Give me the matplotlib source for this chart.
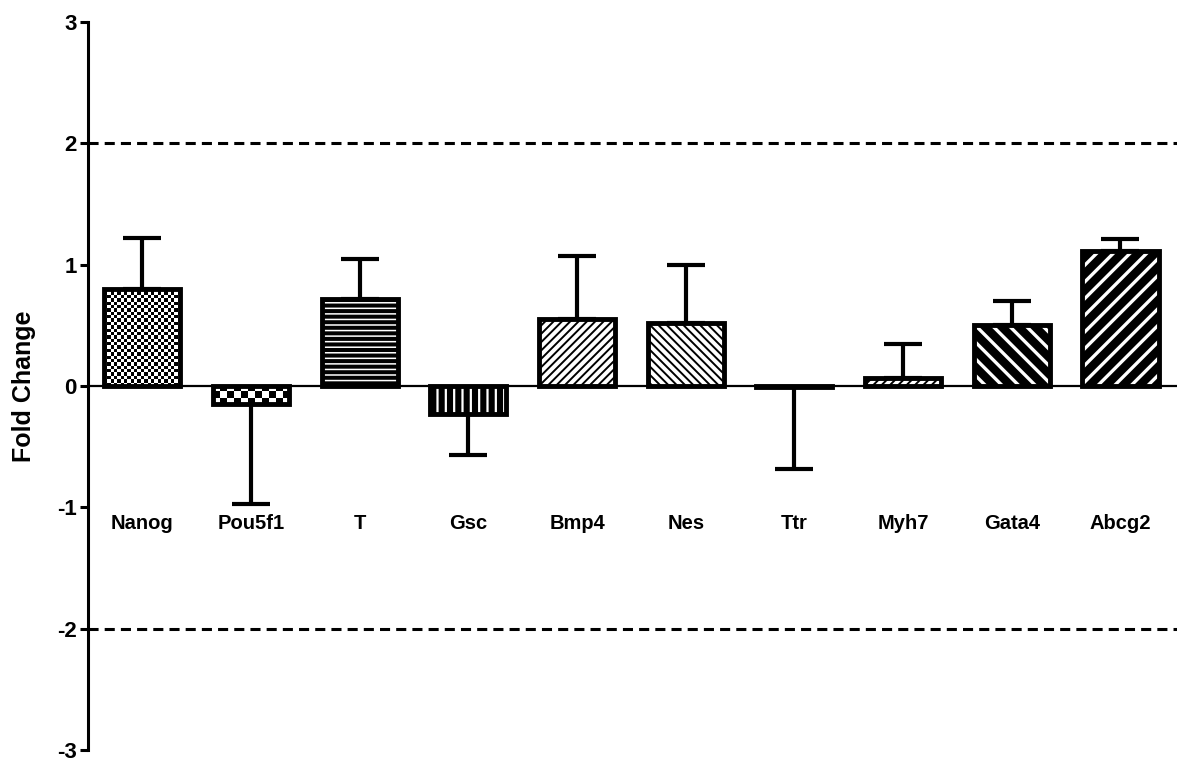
import numpy as np
import matplotlib
matplotlib.use("Agg")
import matplotlib.pyplot as plt

plt.rcParams["font.family"] = ["Liberation Sans", "DejaVu Sans"]
plt.rcParams["font.weight"] = "bold"

genes = ["Nanog", "Pou5f1", "T", "Gsc", "Bmp4", "Nes", "Ttr", "Myh7", "Gata4", "Abcg2"]
fold_change = [0.80, -0.15, 0.72, -0.23, 0.55, 0.52, -0.01, 0.07, 0.50, 1.11]
sem = [0.42, 0.82, 0.33, 0.34, 0.52, 0.48, 0.67, 0.28, 0.20, 0.10]
y_ticks = [-3, -2, -1, 0, 1, 2, 3]
cutoffs = [2, -2]

# fill style per bar: (kind, hatch, face, hatch colour, hatch lw, checker cell px)
styles = [
    ("checker", None, "white", None, 0, 3.3),
    ("checker", None, "white", None, 0, 7.0),
    ("hatch", "---", "black", "white", 1.1, 0),
    ("hatch", "||", "black", "white", 1.6, 0),
    ("hatch", "////", "white", "black", 1.4, 0),
    ("hatch", "\\\\\\\\", "white", "black", 1.4, 0),
    ("hatch", "", "white", "black", 1.0, 0),
    ("hatch", "////", "white", "black", 1.4, 0),
    ("hatch", "\\\\", "black", "white", 2.4, 0),
    ("hatch", "//", "black", "white", 2.4, 0),
]

W, H, DPI = 11.86, 7.61, 100
fig = plt.figure(figsize=(W, H), dpi=DPI)
ax = fig.add_axes([88 / 1186, 1 - 750 / 761, (1177 - 88) / 1186, (750 - 22) / 761])

x = np.arange(len(genes))
xlim = (-0.5, 9.52)
ylim = (-3, 3)
px_x = (1177 - 88) / (xlim[1] - xlim[0])
px_y = (750 - 22) / (ylim[1] - ylim[0])
bar_w = 0.70

# one-sided error bars, pointing away from zero
err_lo = [e if v < 0 else 0 for v, e in zip(fold_change, sem)]
err_hi = [e if v >= 0 else 0 for v, e in zip(fold_change, sem)]
ax.errorbar(x, fold_change, yerr=[err_lo, err_hi], fmt="none", ecolor="black",
            elinewidth=3.0, capsize=14, capthick=3.0, zorder=2)

for i, (xi, v) in enumerate(zip(x, fold_change)):
    kind, hatch, face, hcol, hlw, cell = styles[i]
    if kind == "checker":
        base = ax.bar(xi, v, width=bar_w, color="white", linewidth=0, zorder=3)[0]
        x0, w = base.get_x(), base.get_width()
        y0, y1 = sorted([0, v])
        nx = max(1, int(round(w * px_x / cell)))
        ny = max(1, int(round((y1 - y0) * px_y / cell)))
        jj, ii = np.indices((ny, nx))
        board = (ii + jj) % 2
        im = ax.imshow(board, extent=(x0, x0 + w, y0, y1), cmap="gray_r",
                       interpolation="nearest", aspect="auto", zorder=3.5,
                       vmin=0, vmax=1)
        im.set_clip_path(base)
    else:
        with plt.rc_context({"hatch.linewidth": hlw}):
            fill = ax.bar(xi, v, width=bar_w, color=face, edgecolor=hcol,
                          hatch=hatch, linewidth=0, zorder=3)[0]
        if hasattr(fill, "set_hatch_linewidth"):
            fill.set_hatch_linewidth(hlw)
    ax.bar(xi, v, width=bar_w, facecolor="none", edgecolor="black",
           linewidth=3.5, zorder=4)

ax.axhline(0, color="black", linewidth=1.6, zorder=5)
for c in cutoffs:
    ax.axhline(c, color="black", linewidth=2.2, dashes=(3.3, 2.0), zorder=1)

for xi, g in zip(x, genes):
    ax.text(xi, -1.13, g, ha="center", va="center", fontsize=14.5, fontweight="bold")

ax.set_xlim(*xlim)
ax.set_ylim(*ylim)
ax.set_yticks(y_ticks)
ax.set_yticklabels([str(t) for t in y_ticks], fontsize=16, fontweight="bold")
ax.set_xticks([])
for s in ["top", "right", "bottom"]:
    ax.spines[s].set_visible(False)
ax.spines["left"].set_linewidth(2.2)
ax.tick_params(axis="y", direction="out", length=6, width=2.2, pad=2)
ax.set_ylabel("Fold Change", fontsize=18, fontweight="bold")
ax.yaxis.set_label_coords(-0.048, 0.5)

fig.savefig("out.png", dpi=DPI)
